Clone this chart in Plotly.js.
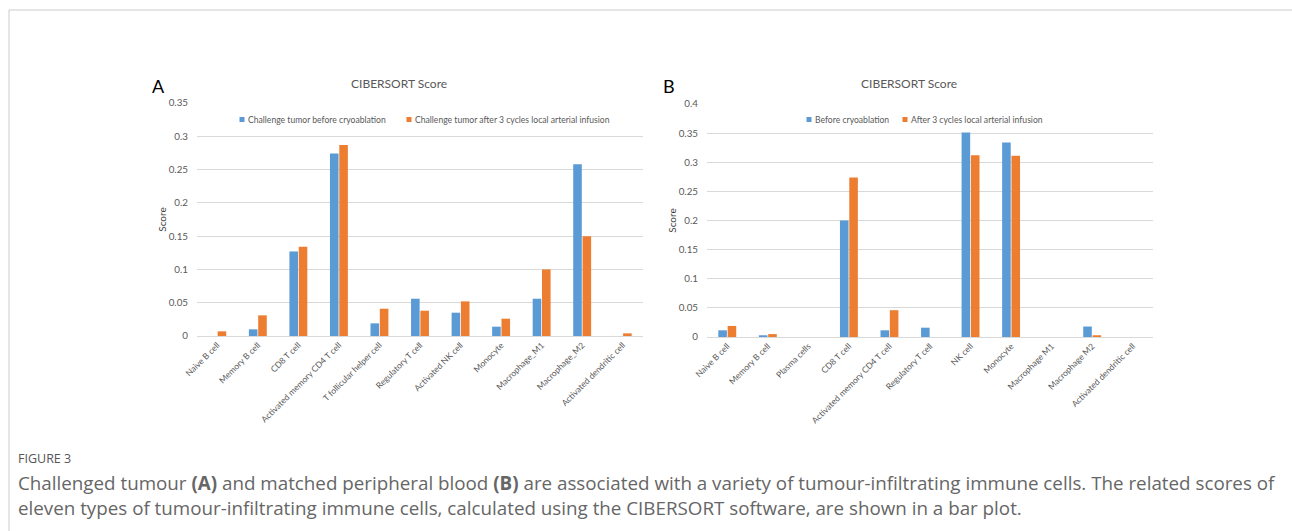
<!DOCTYPE html>
<html>
<head>
<meta charset="utf-8">
<script src="https://cdn.plot.ly/plotly-3.0.1.min.js"></script>
<style>
html,body{margin:0;padding:0;background:#fff;}
#chart{width:1292px;height:531px;}
</style>
</head>
<body>
<div id="chart"></div>
<script>
// Panel A data
const catsA = ["Naive B cell","Memory B cell","CD8 T cell","Activated memory CD4 T cell","T follicular helper cell","Regulatory T cell","Activated NK cell","Monocyte","Macrophage_M1","Macrophage_M2","Activated dendritic cell"];
const beforeA = [0, 0.010, 0.127, 0.274, 0.019, 0.056, 0.035, 0.014, 0.056, 0.258, 0];
const afterA  = [0.007, 0.031, 0.134, 0.287, 0.041, 0.038, 0.052, 0.026, 0.100, 0.150, 0.004];
const nameA1 = "Challenge tumor before cryoablation";
const nameA2 = "Challenge tumor after 3 cycles local arterial infusion";

// Panel B data
const catsB = ["Naive B cell","Memory B cell","Plasma cells","CD8 T cell","Activated memory CD4 T cell","Regulatory T cell","NK cell","Monocyte","Macrophage M1","Macrophage M2","Activated dendritic cell"];
const beforeB = [0.0115, 0.003, 0, 0.200, 0.0115, 0.016, 0.351, 0.334, 0, 0.018, 0];
const afterB  = [0.019, 0.005, 0, 0.274, 0.046, 0, 0.312, 0.311, 0, 0.003, 0];
const nameB1 = "Before cryoablation";
const nameB2 = "After 3 cycles local arterial infusion";

const ticksA = [0,0.05,0.1,0.15,0.2,0.25,0.3,0.35];
const ticksB = [0,0.05,0.1,0.15,0.2,0.25,0.3,0.35,0.4];

const BLUE = "#5B9BD5", ORANGE = "#ED7D31";
const W = 1292, H = 531;
const px = v => v / W;
const py = v => 1 - v / H;
const CF = "Lato, 'Open Sans', sans-serif";

const traces = [
  {type:"bar", x:catsA, y:beforeA, name:nameA1, marker:{color:BLUE}, xaxis:"x", yaxis:"y", showlegend:false},
  {type:"bar", x:catsA, y:afterA, name:nameA2, marker:{color:ORANGE}, xaxis:"x", yaxis:"y", showlegend:false},
  {type:"bar", x:catsB, y:beforeB, name:nameB1, marker:{color:BLUE}, xaxis:"x2", yaxis:"y2", showlegend:false},
  {type:"bar", x:catsB, y:afterB, name:nameB2, marker:{color:ORANGE}, xaxis:"x2", yaxis:"y2", showlegend:false}
];

const xTickFont = {family:CF, size:8.5, color:"#595959"};
const yTickFont = {family:CF, size:9.8, color:"#595959"};
const xCommon = {type:"category", tickangle:-45, tickfont:xTickFont, showgrid:false, showline:true, linecolor:"#d9d9d9", linewidth:1, ticks:"", zeroline:false, fixedrange:true};
const yCommon = {showgrid:true, gridcolor:"#d9d9d9", gridwidth:1, zeroline:false, showline:false, ticks:"", tickfont:yTickFont, ticklabelstandoff:8, fixedrange:true,
  title:{text:"Score", font:{family:CF, size:10, color:"#404040"}, standoff:0}};
const legFont = {family:CF, size:8.6, color:"#595959"};

// legend entries drawn as small squares + text (Excel style)
function legendItem(sqX, textX, y, color, label) {
  return {
    shape: {type:"rect", xref:"paper", yref:"paper", x0:px(sqX), x1:px(sqX+5), y0:py(y+2.5), y1:py(y-2.5), fillcolor:color, line:{width:0}},
    ann: {text:label, xref:"paper", yref:"paper", x:px(textX), y:py(y), xanchor:"left", yanchor:"middle", showarrow:false, font:legFont}
  };
}
const legItems = [
  legendItem(239.5, 245.5, 119.5, BLUE, nameA1),
  legendItem(406.5, 412.5, 119.5, ORANGE, nameA2),
  legendItem(806.5, 812.5, 119.5, BLUE, nameB1),
  legendItem(902.5, 908.5, 119.5, ORANGE, nameB2)
];

const layout = {
  width:W, height:H,
  margin:{l:0,r:0,t:0,b:0},
  paper_bgcolor:"#fff", plot_bgcolor:"#fff",
  barmode:"group", bargap:0.54, bargroupgap:0.08,
  showlegend:false,
  xaxis:Object.assign({}, xCommon, {domain:[px(197), px(643)], anchor:"y"}),
  yaxis:Object.assign({}, yCommon, {domain:[py(336), py(103)], range:[0,0.35], tickvals:ticksA, ticktext:ticksA.map(String), anchor:"x"}),
  xaxis2:Object.assign({}, xCommon, {domain:[px(707), px(1153)], anchor:"y2"}),
  yaxis2:Object.assign({}, yCommon, {domain:[py(337), py(104)], range:[0,0.4], tickvals:ticksB, ticktext:ticksB.map(String), anchor:"x2"}),
  shapes:[
    {type:"line", xref:"paper", yref:"paper", x0:px(9), x1:1, y0:py(10), y1:py(10), line:{color:"#cccccc", width:1}},
    {type:"line", xref:"paper", yref:"paper", x0:px(9), x1:px(9), y0:py(10), y1:0, line:{color:"#cccccc", width:1}}
  ].concat(legItems.map(d => d.shape)),
  annotations:[
    {text:"A", xref:"paper", yref:"paper", x:px(150), y:py(86), xanchor:"left", yanchor:"middle", showarrow:false, font:{family:CF, size:18, color:"#000"}},
    {text:"CIBERSORT Score", xref:"paper", yref:"paper", x:px(399), y:py(84), xanchor:"center", yanchor:"middle", showarrow:false, font:{family:CF, size:12, color:"#595959"}},
    {text:"B", xref:"paper", yref:"paper", x:px(661), y:py(86), xanchor:"left", yanchor:"middle", showarrow:false, font:{family:CF, size:18, color:"#000"}},
    {text:"CIBERSORT Score", xref:"paper", yref:"paper", x:px(909), y:py(84), xanchor:"center", yanchor:"middle", showarrow:false, font:{family:CF, size:12, color:"#595959"}},
    {text:"FIGURE 3", xref:"paper", yref:"paper", x:px(16), y:py(458), xanchor:"left", yanchor:"middle", showarrow:false, font:{family:"'Open Sans', sans-serif", size:12.5, color:"#555555"}},
    {text:"Challenged tumour <b>(A)</b> and matched peripheral blood <b>(B)</b> are associated with a variety of tumour-infiltrating immune cells. The related scores of", xref:"paper", yref:"paper", x:px(16), y:py(483), xanchor:"left", yanchor:"middle", showarrow:false, font:{family:"'Open Sans', sans-serif", size:18.8, color:"#666666"}},
    {text:"eleven types of tumour-infiltrating immune cells, calculated using the CIBERSORT software, are shown in a bar plot.", xref:"paper", yref:"paper", x:px(16), y:py(508), xanchor:"left", yanchor:"middle", showarrow:false, font:{family:"'Open Sans', sans-serif", size:18.8, color:"#666666"}}
  ].concat(legItems.map(d => d.ann))
};

Plotly.newPlot("chart", traces, layout, {displayModeBar:false, staticPlot:true});
</script>
</body>
</html>
